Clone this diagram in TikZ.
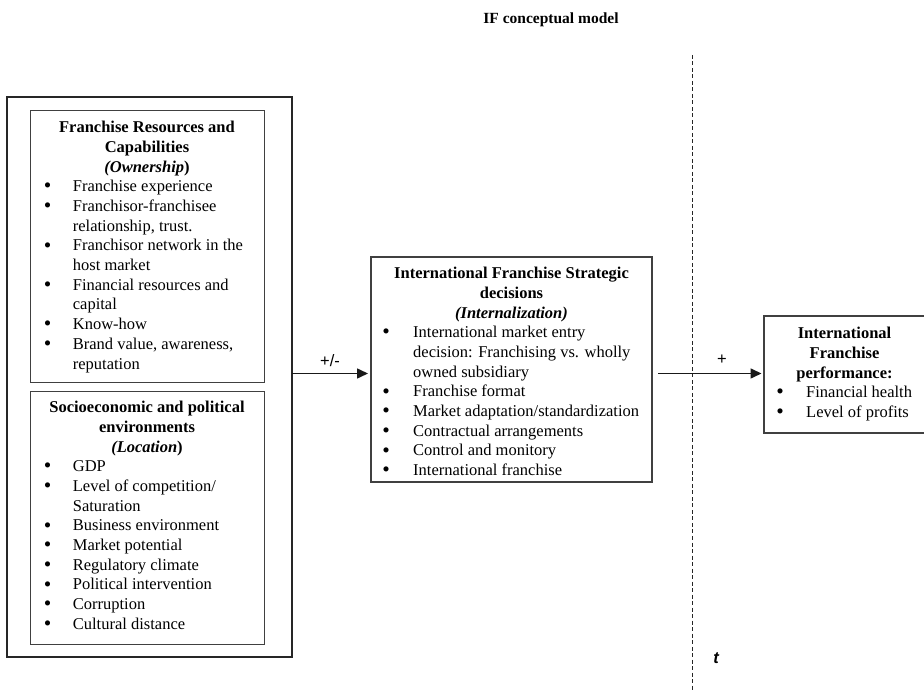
\documentclass[tikz,border=0pt]{standalone}
\usepackage{graphicx}
\usepackage{fontspec}
\setmainfont{Liberation Serif}
\newfontfamily\arialfont{Liberation Sans}
\usetikzlibrary{arrows.meta}
\newcommand\bul[1]{\makebox[#1][l]{\hspace*{-0.9pt}\raisebox{-1.2pt}{\scalebox{1.3}{\textbullet}}}}
\begin{document}
\begin{tikzpicture}[x=1pt,y=-1pt,
  outerbox/.style={draw=black!85,line width=1.8pt,rectangle,inner sep=0pt,outer sep=0pt,anchor=north west},
  innerbox/.style={draw=black!75,line width=1pt,rectangle,inner sep=0pt,outer sep=0pt,anchor=north west},
  hd/.style={font=\fontsize{16.5}{19.7}\selectfont\bfseries,align=center,inner sep=0pt,anchor=north},
  lst/.style={font=\fontsize{16.5}{19.7}\selectfont,align=left,inner sep=0pt,anchor=north west},
  lbl/.style={font=\fontsize{16.5}{19.7}\selectfont\arialfont,inner sep=0pt,anchor=base},
  arr/.style={draw=black!90,line width=1.6pt,-{Triangle[length=11pt,width=10pt]}},
  timeline/.style={draw=black!85,line width=1.1pt,dash pattern=on 4pt off 2.5pt}
]
\useasboundingbox (0,0) rectangle (924,692);
\clip (0,0) rectangle (924,692);

% title
\node[font=\fontsize{15.5}{18}\selectfont\bfseries,inner sep=0pt,anchor=base] (title) at (551,24) {IF conceptual model};

% boxes
\node[outerbox,minimum width=285pt,minimum height=560pt] (outer) at (7,97) {};
\node[innerbox,minimum width=234pt,minimum height=272pt] (own) at (30,111) {};
\node[innerbox,minimum width=234pt,minimum height=252pt] (loc) at (30,392) {};
\node[innerbox,line width=1.2pt,minimum width=281pt,minimum height=225pt] (mid) at (371,257) {};
\node[innerbox,line width=1.2pt,minimum width=170pt,minimum height=117pt] (perf) at (764,316) {};

% box 1
\node[hd] (ownh) at (147,118.7) {\strut Franchise Resources and\\Capabilities\\\textit{(Ownership})};
\node[lst] (ownl) at (44.6,177.8) {\strut\bul{28.1pt}Franchise experience\\
\bul{28.1pt}Franchisor-franchisee\\
\hspace*{28.1pt}relationship, trust.\\
\bul{28.1pt}Franchisor network in the\\
\hspace*{28.1pt}host market\\
\bul{28.1pt}Financial resources and\\
\hspace*{28.1pt}capital\\
\bul{28.1pt}Know-how\\
\bul{28.1pt}Brand value, awareness,\\
\hspace*{28.1pt}reputation};

% box 2
\node[hd] (loch) at (147,398.7) {\strut Socioeconomic and political\\environments\\\textit{(Location})};
\node[lst] (locl) at (44.6,457.8) {\strut\bul{28.1pt}GDP\\
\bul{28.1pt}Level of competition/\\
\hspace*{28.1pt}Saturation\\
\bul{28.1pt}Business environment\\
\bul{28.1pt}Market potential\\
\bul{28.1pt}Regulatory climate\\
\bul{28.1pt}Political intervention\\
\bul{28.1pt}Corruption\\
\bul{28.1pt}Cultural distance};

% middle box
\node[hd] (midh) at (511.5,264.7) {\strut International Franchise Strategic\\decisions\\\textit{(Internalization)}};
\node[lst] (midl) at (383.1,323.8) {\strut\bul{29.9pt}International market entry\\
\hspace*{29.9pt}decision: Franchising vs. wholly\\
\hspace*{29.9pt}owned subsidiary\\
\bul{29.9pt}Franchise format\\
\bul{29.9pt}Market adaptation/standardization\\
\bul{29.9pt}Contractual arrangements\\
\bul{29.9pt}Control and monitory\\
\bul{29.9pt}International franchise};

% right box
\node[hd] (perfh) at (844.5,324.7) {\strut International\\Franchise\\performance:};
\node[lst] (perfl) at (777.1,383.8) {\strut\bul{28.9pt}Financial health\\
\bul{28.9pt}Level of profits};

% dashed time line
\coordinate (dtop) at (692.7,55);
\coordinate (dbot) at (692.7,700);
\draw[timeline] (dtop) -- (dbot);
\node[font=\fontsize{16.5}{19.7}\selectfont\arialfont\bfseries\itshape,inner sep=0pt,anchor=base] (tlab) at (716,663) {t};

% arrows
\coordinate (row) at (0,373.5);
\draw[arr,shorten >=3pt] (outer.east |- row) -- (mid.west |- row);
\draw[arr,shorten <=6pt,shorten >=2.5pt] (mid.east |- row) -- (perf.west |- row);
\node[lbl] (pm) at (330,366.5) {+/-};
\node[lbl] (pl) at (722,364.5) {+};
\end{tikzpicture}
\end{document}
